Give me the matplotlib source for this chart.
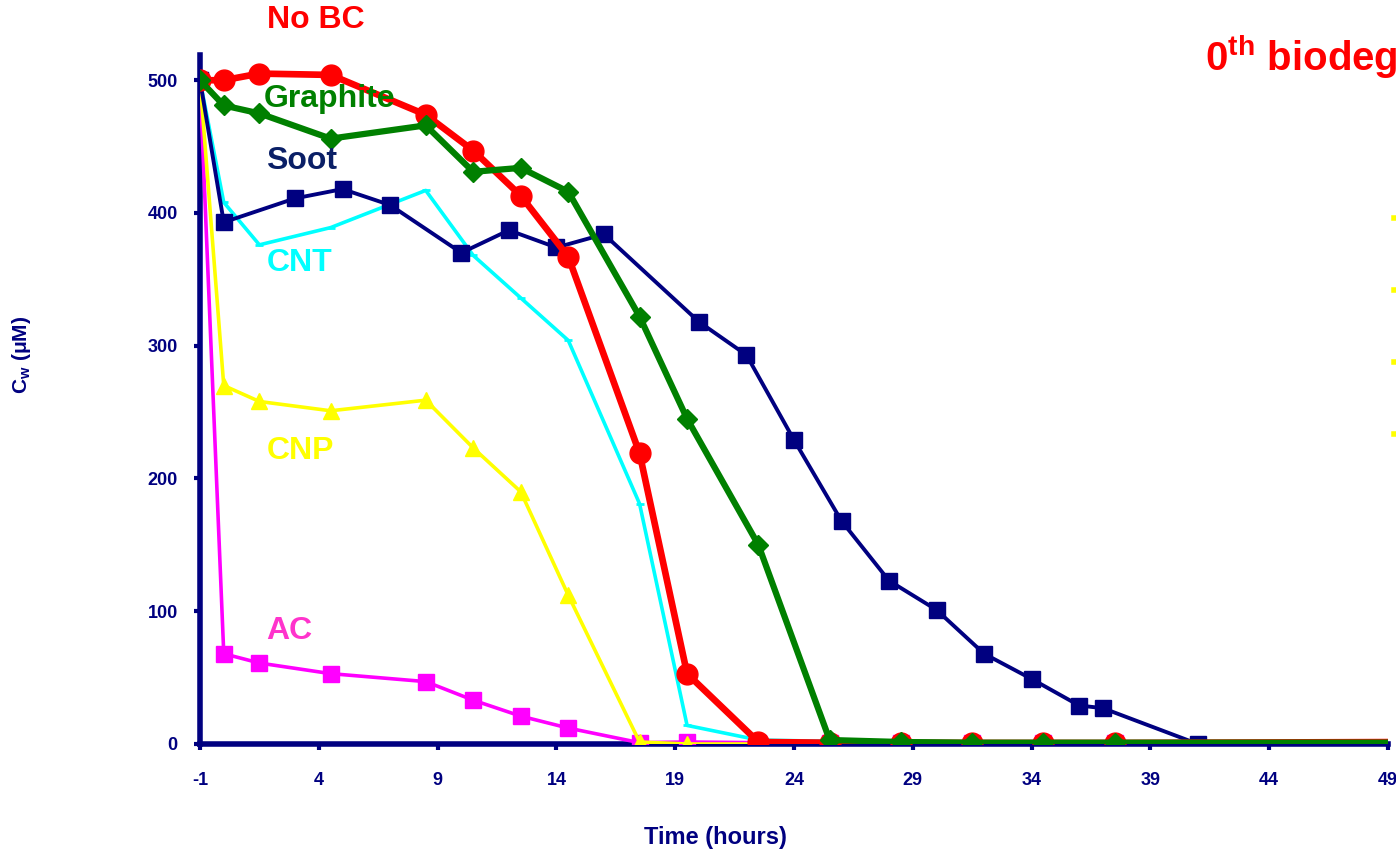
import matplotlib.pyplot as plt
from matplotlib.lines import Line2D

plt.rcParams['font.family'] = ['Liberation Sans', 'DejaVu Sans']
plt.rcParams['mathtext.fontset'] = 'custom'
plt.rcParams['mathtext.bf'] = 'Liberation Sans:bold'
plt.rcParams['mathtext.rm'] = 'Liberation Sans'
plt.rcParams['axes.unicode_minus'] = False

# sampling times (hours)
t_main = [-1, 0, 1.5, 4.5, 8.5, 10.5, 12.5, 14.5, 17.5, 19.5, 22.5, 25.5, 28.5, 31.5, 34.5, 37.5, 50]
t_soot = [-1, 0, 3, 5, 7, 10, 12, 14, 16, 20, 22, 24, 26, 28, 30, 32, 34, 36, 37, 41, 50]

# concentrations (uM)
no_bc = [500, 500, 505, 504, 474, 447, 413, 367, 219, 53, 1.5, 1, 1, 0.8, 0.8, 0.8, 1.5]
graphite = [500, 481, 475, 456, 466, 431, 434, 416, 322, 245, 150, 3, 1.5, 1, 1, 1, 1]
soot = [500, 393, 411, 418, 406, 370, 387, 374, 384, 318, 293, 229, 168, 123, 101, 68, 49, 29, 27, 0, 0]
cnt = [500, 408, 376, 389, 417, 368, 336, 304, 181, 14, 3, 2, 1.5, 1.5, 1.5, 1.5, 1.5]
cnp = [500, 270, 258, 251, 259, 223, 190, 112, 1.5, 0, 0, 0, 0, 0, 0, 0, 0]
ac = [500, 68, 61, 53, 47, 33, 21, 12, 1, 1.5, 1, 1, 1, 1, 1, 1, 1]

navy = '#000080'

fig = plt.figure(figsize=(13.96, 8.5), dpi=100)
ax = fig.add_axes([200 / 1396, 106 / 850, 1188 / 1396, 689 / 850])

ax.plot(t_main, cnt, color='cyan', lw=2.6, marker='_', ms=6, mew=2, zorder=2)
ax.plot(t_main, ac, color='magenta', lw=2.6, marker='s', ms=11, zorder=3)
ax.plot(t_main, cnp, color='yellow', lw=2.6, marker='^', ms=11, zorder=4)
ax.plot(t_soot, soot, color=navy, lw=2.8, marker='s', ms=12, zorder=5)
ax.plot(t_main, no_bc, color='red', lw=4.8, marker='o', ms=15, zorder=6)
ax.plot(t_main, graphite, color='green', lw=4.5, marker='D', ms=10, zorder=7)

ax.set_xlim(-1, 49)
ax.set_ylim(0, 519)
ax.set_xticks(range(-1, 50, 5))
ax.set_yticks(range(0, 501, 100))

for side in ['top', 'right']:
    ax.spines[side].set_visible(False)
for side in ['left', 'bottom']:
    ax.spines[side].set_color(navy)
    ax.spines[side].set_linewidth(4)
    ax.spines[side].set_zorder(1)

ax.tick_params(axis='both', colors=navy, width=3, length=4, direction='out', labelsize=13)
ax.tick_params(axis='y', pad=12)
ax.tick_params(axis='x', pad=16)
for lab in ax.get_xticklabels() + ax.get_yticklabels():
    lab.set_fontweight('bold')

ax.set_xlabel('Time (hours)', color=navy, fontsize=17, fontweight='bold', va='center')
ax.xaxis.set_label_coords(0.434, -0.136)
ax.set_ylabel(r'C$_{\mathbf{w}}$ ($\mathbf{\mu}$M)', color=navy, fontsize=15, fontweight='bold', va='center')
ax.yaxis.set_label_coords(-0.15, 0.565)

# curve labels
lab_kw = dict(fontsize=23, fontweight='bold', va='center', ha='left', zorder=10)
ax.text(1.8, 545, 'No BC', color='red', clip_on=False, **lab_kw)
ax.text(1.7, 486, 'Graphite', color='green', **lab_kw)
ax.text(1.8, 439, 'Soot', color='#0a1f66', **lab_kw)
ax.text(1.8, 362, 'CNT', color='cyan', **lab_kw)
ax.text(1.8, 221, 'CNP', color='yellow', **lab_kw)
ax.text(1.8, 85, 'AC', color='#ff33cc', **lab_kw)

fig.text(1205 / 1396, 1 - 57 / 850, r'0$^{\mathbf{th}}$ biodegradation', color='red',
         fontsize=29, fontweight='bold', va='center', ha='left')

# edge of an off-frame legend
for ypx in [218, 290, 362, 434]:
    fig.add_artist(Line2D([1394 / 1396, 1396 / 1396], [1 - ypx / 850, 1 - ypx / 850],
                          color='yellow', lw=4))

fig.savefig('out.png', dpi=100)
